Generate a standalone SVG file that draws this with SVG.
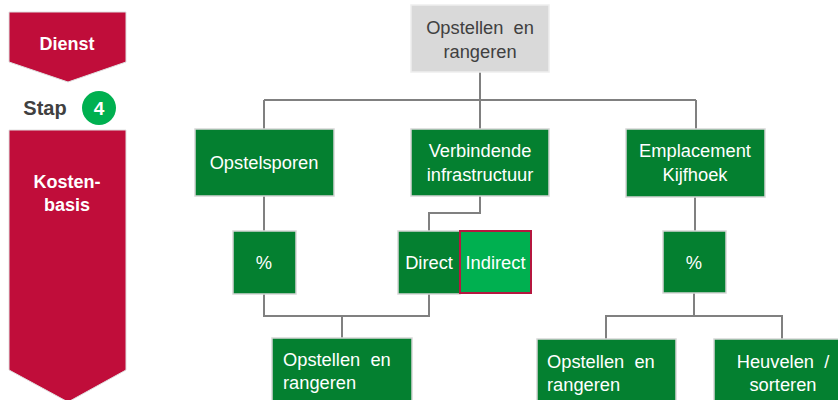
<svg xmlns="http://www.w3.org/2000/svg" width="838" height="400" viewBox="0 0 838 400">
<style>
text{font-family:"Liberation Sans",Arial,sans-serif;}
.banner{fill:#c00d3a;stroke:#e0e0e0;stroke-width:1;}
.wb{fill:#fff;font-weight:bold;font-size:18px;text-anchor:middle;}
.box{fill:#048030;stroke:#d6d6d6;stroke-width:1.5;}
.t{fill:#fff;font-size:18.3px;text-anchor:middle;}
.tl{fill:#fff;font-size:18.3px;}
.con{fill:none;stroke:#808080;stroke-width:2;}
</style>
<rect width="838" height="400" fill="#fff"/>
<g id="dienst">
<path class="banner" d="M9,12 H126 V62 L68,82 L9,62 Z"/>
<text class="wb" x="67" y="50">Dienst</text>
</g>
<g id="stap">
<text x="45" y="115" font-size="20px" font-weight="bold" fill="#404040" text-anchor="middle">Stap</text>
<circle cx="99" cy="108" r="17" fill="#00b050"/>
<text x="99" y="115" font-size="19px" font-weight="bold" fill="#fff" text-anchor="middle">4</text>
</g>
<g id="kostenbasis">
<path class="banner" d="M9,130 H126 V370 L68,402 L9,370 Z"/>
<text class="wb" x="67" y="188">Kosten-</text>
<text class="wb" x="67" y="211">basis</text>
</g>
<g id="connectors">
<path class="con" d="M480,72 V100 M264,100 H696 M264,100 V129 M480,100 V129 M696,100 V129"/>
<path class="con" d="M264,196 V231"/>
<path class="con" d="M480,196 V213 H429 V231"/>
<path class="con" d="M264,294 V316 H429 V294 M342,316 V338"/>
<path class="con" d="M695,197 V231"/>
<path class="con" d="M694,293 V316 H606 V339 M694,316 H782 V339"/>
</g>
<g id="top">
<rect x="411" y="5" width="138" height="67" fill="#d9d9d9" stroke="#eeeeee" stroke-width="1.5"/>
<text x="480" y="34" font-size="18.3px" fill="#404040" text-anchor="middle" xml:space="preserve">Opstellen  en</text>
<text x="480" y="58" font-size="18.3px" fill="#404040" text-anchor="middle">rangeren</text>
</g>
<g id="opstelsporen">
<rect class="box" x="195" y="129" width="139" height="67"/>
<text class="t" x="264" y="169">Opstelsporen</text>
</g>
<g id="verbindende">
<rect class="box" x="411" y="129" width="138" height="67"/>
<text class="t" x="480" y="157">Verbindende</text>
<text class="t" x="480" y="181">infrastructuur</text>
</g>
<g id="emplacement">
<rect class="box" x="626" y="129" width="139" height="68"/>
<text class="t" x="695" y="157">Emplacement</text>
<text class="t" x="695" y="181">Kijfhoek</text>
</g>
<g id="pct-left">
<rect class="box" x="233" y="231" width="63" height="63"/>
<text class="t" x="264" y="269">%</text>
</g>
<g id="direct">
<rect class="box" x="398" y="231" width="62" height="63"/>
<text class="t" x="429" y="269">Direct</text>
</g>
<g id="indirect">
<rect x="460" y="231" width="71" height="62" fill="#00b050" stroke="#b5173f" stroke-width="2"/>
<text class="t" x="495.5" y="269">Indirect</text>
</g>
<g id="pct-right">
<rect class="box" x="663" y="231" width="63" height="62"/>
<text class="t" x="694" y="269">%</text>
</g>
<g id="opstellen-left">
<rect class="box" x="272" y="338" width="140" height="70"/>
<text class="tl" x="283" y="366" xml:space="preserve">Opstellen  en</text>
<text class="tl" x="283" y="389">rangeren</text>
</g>
<g id="opstellen-right">
<rect class="box" x="537" y="339" width="139" height="70"/>
<text class="tl" x="547" y="368" xml:space="preserve">Opstellen  en</text>
<text class="tl" x="547" y="391">rangeren</text>
</g>
<g id="heuvelen">
<rect class="box" x="714" y="339" width="139" height="70"/>
<text class="t" x="783" y="368" xml:space="preserve">Heuvelen  /</text>
<text class="t" x="783" y="391">sorteren</text>
</g>
</svg>
